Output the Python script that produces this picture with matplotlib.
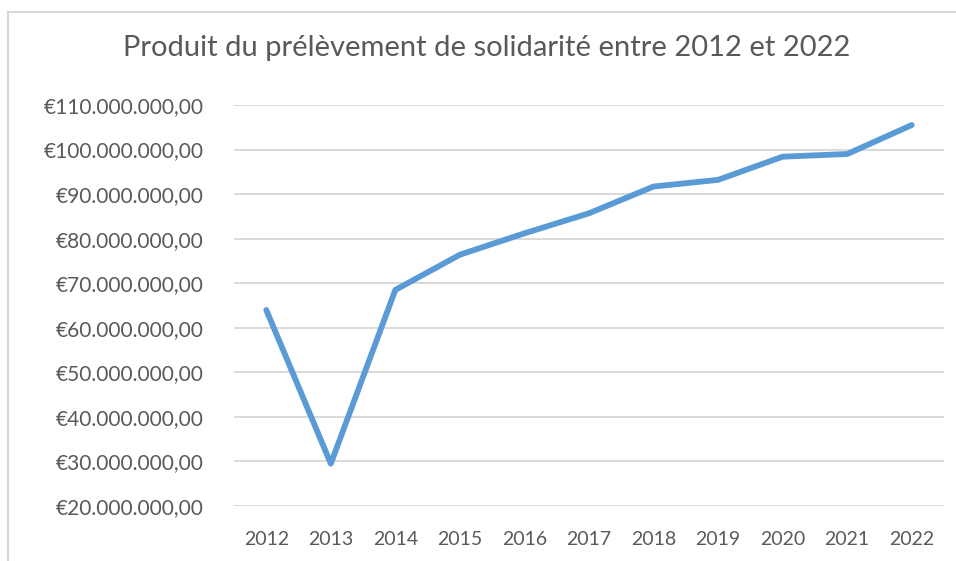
import matplotlib.pyplot as plt
from matplotlib.ticker import FuncFormatter
from matplotlib.lines import Line2D

years = ['2012', '2013', '2014', '2015', '2016', '2017', '2018', '2019', '2020', '2021', '2022']
produit = [64.0e6, 29.5e6, 68.5e6, 76.4e6, 81.2e6, 85.7e6, 91.7e6, 93.2e6, 98.4e6, 99.0e6, 105.5e6]
y_ticks = [20e6, 30e6, 40e6, 50e6, 60e6, 70e6, 80e6, 90e6, 100e6, 110e6]

plt.rcParams['font.family'] = ['Lato', 'DejaVu Sans']
grey = '#595959'

fig = plt.figure(figsize=(9.56, 5.61), dpi=100)
ax = fig.add_axes([234 / 956, 1 - 506 / 561, (944 - 234) / 956, (506 - 105) / 561])

ax.plot(range(len(years)), produit, color='#5B9BD5', lw=4.2, solid_capstyle='round', solid_joinstyle='round', zorder=3)

ax.set_xlim(-0.5, len(years) - 0.5)
ax.set_ylim(20e6, 110e6)
ax.set_yticks(y_ticks)
ax.set_xticks(range(len(years)))
ax.set_xticklabels(years)


def euro(v, pos):
    s = f"{v:,.2f}".replace(',', 'X').replace('.', ',').replace('X', '.')
    return '€' + s


ax.yaxis.set_major_formatter(FuncFormatter(euro))
ax.grid(axis='y', color='#D9D9D9', lw=1.4)
ax.set_axisbelow(True)
for sp in ax.spines.values():
    sp.set_visible(False)
ax.tick_params(axis='both', length=0, colors=grey)
ax.tick_params(axis='y', pad=22, labelsize=15)
ax.tick_params(axis='x', pad=18, labelsize=14)

fig.text(487 / 956, 1 - 48 / 561, 'Produit du prélèvement de solidarité entre 2012 et 2022',
         ha='center', va='center', fontsize=21, color=grey)

# chart frame
fig.add_artist(Line2D([8 / 956, 8 / 956], [0, 1 - 12 / 561], transform=fig.transFigure, color='#D9D9D9', lw=1.5))
fig.add_artist(Line2D([8 / 956, 1], [1 - 12 / 561, 1 - 12 / 561], transform=fig.transFigure, color='#D9D9D9', lw=1.5))

fig.savefig('out.png', dpi=100)
